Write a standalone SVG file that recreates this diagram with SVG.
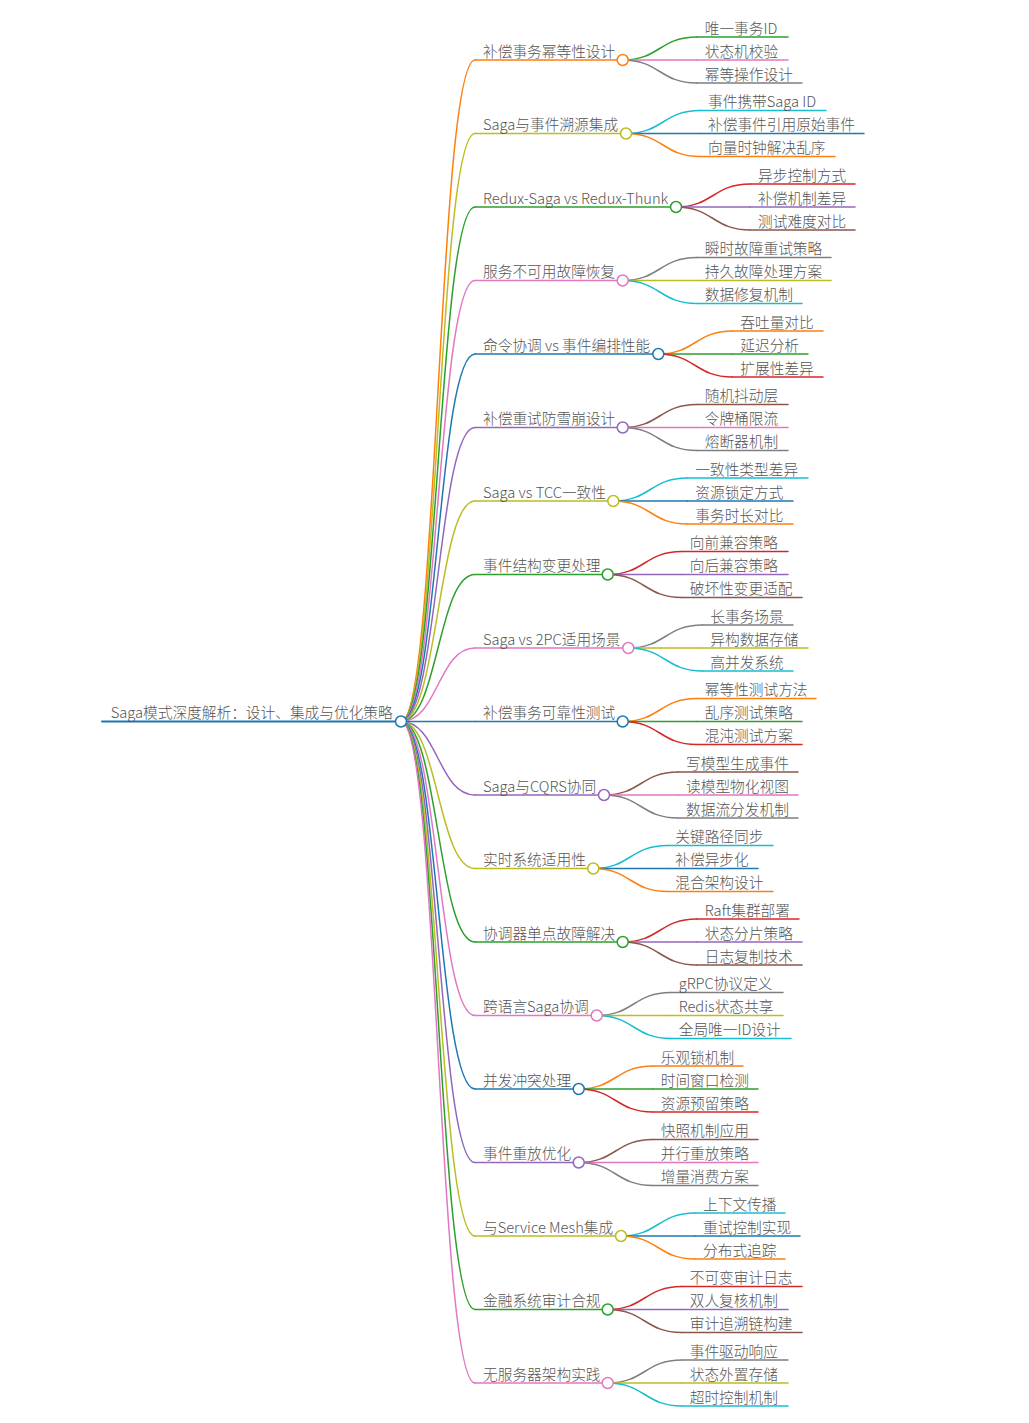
<svg xmlns="http://www.w3.org/2000/svg" width="1029" height="1423" viewBox="0 0 1029 1423">
<style>
text{font-family:"Noto Sans CJK SC","Noto Sans",sans-serif;font-size:14.7px;font-weight:300;fill:#555}
path,line{fill:none;stroke-width:1.5;stroke-linecap:round}
circle{fill:#fff;stroke-width:1.5}
.or{stroke:#ff7f0e}.ol{stroke:#bcbd22}.gr{stroke:#2ca02c}.pk{stroke:#e377c2}.bl{stroke:#1f77b4}.pu{stroke:#9467bd}.rd{stroke:#d62728}.br{stroke:#8c564b}.gy{stroke:#7f7f7f}.cy{stroke:#17becf}
</style>
<rect width="1029" height="1423" fill="#fff"/>
<g id="connectors">
<path class="or" d="M401,721.5 C438,721.5 438,60 475,60"/>
<path class="ol" d="M401,721.5 C438,721.5 438,133.5 475,133.5"/>
<path class="gr" d="M401,721.5 C438,721.5 438,207 475,207"/>
<path class="pk" d="M401,721.5 C438,721.5 438,280.5 475,280.5"/>
<path class="bl" d="M401,721.5 C438,721.5 438,354 475,354"/>
<path class="pu" d="M401,721.5 C438,721.5 438,427.5 475,427.5"/>
<path class="ol" d="M401,721.5 C438,721.5 438,501 475,501"/>
<path class="gr" d="M401,721.5 C438,721.5 438,574.5 475,574.5"/>
<path class="pk" d="M401,721.5 C438,721.5 438,648 475,648"/>
<path class="bl" d="M401,721.5 L475,721.5"/>
<path class="pu" d="M401,721.5 C438,721.5 438,795 475,795"/>
<path class="ol" d="M401,721.5 C438,721.5 438,868.5 475,868.5"/>
<path class="gr" d="M401,721.5 C438,721.5 438,942 475,942"/>
<path class="pk" d="M401,721.5 C438,721.5 438,1015.5 475,1015.5"/>
<path class="bl" d="M401,721.5 C438,721.5 438,1089 475,1089"/>
<path class="pu" d="M401,721.5 C438,721.5 438,1162.5 475,1162.5"/>
<path class="ol" d="M401,721.5 C438,721.5 438,1236 475,1236"/>
<path class="gr" d="M401,721.5 C438,721.5 438,1309.5 475,1309.5"/>
<path class="pk" d="M401,721.5 C438,721.5 438,1383 475,1383"/>

<path class="gr" d="M622.7,60 C659.7,60 659.7,37 696.7,37"/>
<path class="pk" d="M622.7,60 L696.7,60"/>
<path class="gy" d="M622.7,60 C659.7,60 659.7,83 696.7,83"/>

<path class="cy" d="M626,133.5 C663,133.5 663,110.5 700,110.5"/>
<path class="bl" d="M626,133.5 L700,133.5"/>
<path class="or" d="M626,133.5 C663,133.5 663,156.5 700,156.5"/>

<path class="rd" d="M676,207 C713,207 713,184 750,184"/>
<path class="pu" d="M676,207 L750,207"/>
<path class="br" d="M676,207 C713,207 713,230 750,230"/>

<path class="gy" d="M622.7,280.5 C659.7,280.5 659.7,257.5 696.7,257.5"/>
<path class="ol" d="M622.7,280.5 L696.7,280.5"/>
<path class="cy" d="M622.7,280.5 C659.7,280.5 659.7,303.5 696.7,303.5"/>

<path class="or" d="M658.3,354 C695.3,354 695.3,331 732.3,331"/>
<path class="gr" d="M658.3,354 L732.3,354"/>
<path class="rd" d="M658.3,354 C695.3,354 695.3,377 732.3,377"/>

<path class="br" d="M622.7,427.5 C659.7,427.5 659.7,404.5 696.7,404.5"/>
<path class="pk" d="M622.7,427.5 L696.7,427.5"/>
<path class="gy" d="M622.7,427.5 C659.7,427.5 659.7,450.5 696.7,450.5"/>

<path class="cy" d="M613.3,501 C650.3,501 650.3,478 687.3,478"/>
<path class="bl" d="M613.3,501 L687.3,501"/>
<path class="or" d="M613.3,501 C650.3,501 650.3,524 687.3,524"/>

<path class="rd" d="M607.7,574.5 C644.7,574.5 644.7,551.5 681.7,551.5"/>
<path class="pu" d="M607.7,574.5 L681.7,574.5"/>
<path class="br" d="M607.7,574.5 C644.7,574.5 644.7,597.5 681.7,597.5"/>

<path class="gy" d="M628.3,648 C665.3,648 665.3,625 702.3,625"/>
<path class="ol" d="M628.3,648 L702.3,648"/>
<path class="cy" d="M628.3,648 C665.3,648 665.3,671 702.3,671"/>

<path class="or" d="M622.7,721.5 C659.7,721.5 659.7,698.5 696.7,698.5"/>
<path class="gr" d="M622.7,721.5 L696.7,721.5"/>
<path class="rd" d="M622.7,721.5 C659.7,721.5 659.7,744.5 696.7,744.5"/>

<path class="br" d="M604,795 C641,795 641,772 678,772"/>
<path class="pk" d="M604,795 L678,795"/>
<path class="gy" d="M604,795 C641,795 641,818 678,818"/>

<path class="cy" d="M593.3,868.5 C630.3,868.5 630.3,845.5 667.3,845.5"/>
<path class="bl" d="M593.3,868.5 L667.3,868.5"/>
<path class="or" d="M593.3,868.5 C630.3,868.5 630.3,891.5 667.3,891.5"/>

<path class="rd" d="M622.7,942 C659.7,942 659.7,919 696.7,919"/>
<path class="pu" d="M622.7,942 L696.7,942"/>
<path class="br" d="M622.7,942 C659.7,942 659.7,965 696.7,965"/>

<path class="gy" d="M596.7,1015.5 C633.7,1015.5 633.7,992.5 670.7,992.5"/>
<path class="ol" d="M596.7,1015.5 L670.7,1015.5"/>
<path class="cy" d="M596.7,1015.5 C633.7,1015.5 633.7,1038.5 670.7,1038.5"/>

<path class="or" d="M578.7,1089 C615.7,1089 615.7,1066 652.7,1066"/>
<path class="gr" d="M578.7,1089 L652.7,1089"/>
<path class="rd" d="M578.7,1089 C615.7,1089 615.7,1112 652.7,1112"/>

<path class="br" d="M578.7,1162.5 C615.7,1162.5 615.7,1139.5 652.7,1139.5"/>
<path class="pk" d="M578.7,1162.5 L652.7,1162.5"/>
<path class="gy" d="M578.7,1162.5 C615.7,1162.5 615.7,1185.5 652.7,1185.5"/>

<path class="cy" d="M621,1236 C658,1236 658,1213 695,1213"/>
<path class="bl" d="M621,1236 L695,1236"/>
<path class="or" d="M621,1236 C658,1236 658,1259 695,1259"/>

<path class="rd" d="M607.7,1309.5 C644.7,1309.5 644.7,1286.5 681.7,1286.5"/>
<path class="pu" d="M607.7,1309.5 L681.7,1309.5"/>
<path class="br" d="M607.7,1309.5 C644.7,1309.5 644.7,1332.5 681.7,1332.5"/>

<path class="gy" d="M607.7,1383 C644.7,1383 644.7,1360 681.7,1360"/>
<path class="ol" d="M607.7,1383 L681.7,1383"/>
<path class="cy" d="M607.7,1383 C644.7,1383 644.7,1406 681.7,1406"/>
</g>

<g id="root"><line class="bl" x1="102" y1="721.5" x2="401" y2="721.5" style="stroke-width:2"/><text x="110.7" y="718">Saga模式深度解析：设计、集成与优化策略</text><circle class="bl" cx="401" cy="721.5" r="5.5"/></g>

<g id="n1"><line class="or" x1="475" y1="60" x2="622.7" y2="60"/><text x="483" y="56.5">补偿事务幂等性设计</text><circle class="or" cx="622.7" cy="60" r="5.5"/></g>
<g id="n1-1"><line class="gr" x1="696.7" y1="37" x2="788" y2="37"/><text x="704.7" y="33.5">唯一事务ID</text></g>
<g id="n1-2"><line class="pk" x1="696.7" y1="60" x2="788" y2="60"/><text x="704.7" y="56.5">状态机校验</text></g>
<g id="n1-3"><line class="gy" x1="696.7" y1="83" x2="802" y2="83"/><text x="704.7" y="79.5">幂等操作设计</text></g>

<g id="n2"><line class="ol" x1="475" y1="133.5" x2="626" y2="133.5"/><text x="483" y="130">Saga与事件溯源集成</text><circle class="ol" cx="626" cy="133.5" r="5.5"/></g>
<g id="n2-1"><line class="cy" x1="700" y1="110.5" x2="826" y2="110.5"/><text x="708" y="107">事件携带Saga ID</text></g>
<g id="n2-2"><line class="bl" x1="700" y1="133.5" x2="864" y2="133.5"/><text x="708" y="130">补偿事件引用原始事件</text></g>
<g id="n2-3"><line class="or" x1="700" y1="156.5" x2="835" y2="156.5"/><text x="708" y="153">向量时钟解决乱序</text></g>

<g id="n3"><line class="gr" x1="475" y1="207" x2="676" y2="207"/><text x="483" y="203.5">Redux-Saga vs Redux-Thunk</text><circle class="gr" cx="676" cy="207" r="5.5"/></g>
<g id="n3-1"><line class="rd" x1="750" y1="184" x2="855" y2="184"/><text x="758" y="180.5">异步控制方式</text></g>
<g id="n3-2"><line class="pu" x1="750" y1="207" x2="855" y2="207"/><text x="758" y="203.5">补偿机制差异</text></g>
<g id="n3-3"><line class="br" x1="750" y1="230" x2="855" y2="230"/><text x="758" y="226.5">测试难度对比</text></g>

<g id="n4"><line class="pk" x1="475" y1="280.5" x2="622.7" y2="280.5"/><text x="483" y="277">服务不可用故障恢复</text><circle class="pk" cx="622.7" cy="280.5" r="5.5"/></g>
<g id="n4-1"><line class="gy" x1="696.7" y1="257.5" x2="831" y2="257.5"/><text x="704.7" y="254">瞬时故障重试策略</text></g>
<g id="n4-2"><line class="ol" x1="696.7" y1="280.5" x2="831" y2="280.5"/><text x="704.7" y="277">持久故障处理方案</text></g>
<g id="n4-3"><line class="cy" x1="696.7" y1="303.5" x2="802" y2="303.5"/><text x="704.7" y="300">数据修复机制</text></g>

<g id="n5"><line class="bl" x1="475" y1="354" x2="658.3" y2="354"/><text x="483" y="350.5">命令协调 vs 事件编排性能</text><circle class="bl" cx="658.3" cy="354" r="5.5"/></g>
<g id="n5-1"><line class="or" x1="732.3" y1="331" x2="823" y2="331"/><text x="740.3" y="327.5">吞吐量对比</text></g>
<g id="n5-2"><line class="gr" x1="732.3" y1="354" x2="808" y2="354"/><text x="740.3" y="350.5">延迟分析</text></g>
<g id="n5-3"><line class="rd" x1="732.3" y1="377" x2="823" y2="377"/><text x="740.3" y="373.5">扩展性差异</text></g>

<g id="n6"><line class="pu" x1="475" y1="427.5" x2="622.7" y2="427.5"/><text x="483" y="424">补偿重试防雪崩设计</text><circle class="pu" cx="622.7" cy="427.5" r="5.5"/></g>
<g id="n6-1"><line class="br" x1="696.7" y1="404.5" x2="788" y2="404.5"/><text x="704.7" y="401">随机抖动层</text></g>
<g id="n6-2"><line class="pk" x1="696.7" y1="427.5" x2="788" y2="427.5"/><text x="704.7" y="424">令牌桶限流</text></g>
<g id="n6-3"><line class="gy" x1="696.7" y1="450.5" x2="788" y2="450.5"/><text x="704.7" y="447">熔断器机制</text></g>

<g id="n7"><line class="ol" x1="475" y1="501" x2="613.3" y2="501"/><text x="483" y="497.5">Saga vs TCC一致性</text><circle class="ol" cx="613.3" cy="501" r="5.5"/></g>
<g id="n7-1"><line class="cy" x1="687.3" y1="478" x2="808" y2="478"/><text x="695.3" y="474.5">一致性类型差异</text></g>
<g id="n7-2"><line class="bl" x1="687.3" y1="501" x2="793" y2="501"/><text x="695.3" y="497.5">资源锁定方式</text></g>
<g id="n7-3"><line class="or" x1="687.3" y1="524" x2="793" y2="524"/><text x="695.3" y="520.5">事务时长对比</text></g>

<g id="n8"><line class="gr" x1="475" y1="574.5" x2="607.7" y2="574.5"/><text x="483" y="571">事件结构变更处理</text><circle class="gr" cx="607.7" cy="574.5" r="5.5"/></g>
<g id="n8-1"><line class="rd" x1="681.7" y1="551.5" x2="788" y2="551.5"/><text x="689.7" y="548">向前兼容策略</text></g>
<g id="n8-2"><line class="pu" x1="681.7" y1="574.5" x2="788" y2="574.5"/><text x="689.7" y="571">向后兼容策略</text></g>
<g id="n8-3"><line class="br" x1="681.7" y1="597.5" x2="802" y2="597.5"/><text x="689.7" y="594">破坏性变更适配</text></g>

<g id="n9"><line class="pk" x1="475" y1="648" x2="628.3" y2="648"/><text x="483" y="644.5">Saga vs 2PC适用场景</text><circle class="pk" cx="628.3" cy="648" r="5.5"/></g>
<g id="n9-1"><line class="gy" x1="702.3" y1="625" x2="793" y2="625"/><text x="710.3" y="621.5">长事务场景</text></g>
<g id="n9-2"><line class="ol" x1="702.3" y1="648" x2="808" y2="648"/><text x="710.3" y="644.5">异构数据存储</text></g>
<g id="n9-3"><line class="cy" x1="702.3" y1="671" x2="793" y2="671"/><text x="710.3" y="667.5">高并发系统</text></g>

<g id="n10"><line class="bl" x1="475" y1="721.5" x2="622.7" y2="721.5"/><text x="483" y="718">补偿事务可靠性测试</text><circle class="bl" cx="622.7" cy="721.5" r="5.5"/></g>
<g id="n10-1"><line class="or" x1="696.7" y1="698.5" x2="816" y2="698.5"/><text x="704.7" y="695">幂等性测试方法</text></g>
<g id="n10-2"><line class="gr" x1="696.7" y1="721.5" x2="802" y2="721.5"/><text x="704.7" y="718">乱序测试策略</text></g>
<g id="n10-3"><line class="rd" x1="696.7" y1="744.5" x2="802" y2="744.5"/><text x="704.7" y="741">混沌测试方案</text></g>

<g id="n11"><line class="pu" x1="475" y1="795" x2="604" y2="795"/><text x="483" y="791.5">Saga与CQRS协同</text><circle class="pu" cx="604" cy="795" r="5.5"/></g>
<g id="n11-1"><line class="br" x1="678" y1="772" x2="798" y2="772"/><text x="686" y="768.5">写模型生成事件</text></g>
<g id="n11-2"><line class="pk" x1="678" y1="795" x2="798" y2="795"/><text x="686" y="791.5">读模型物化视图</text></g>
<g id="n11-3"><line class="gy" x1="678" y1="818" x2="798" y2="818"/><text x="686" y="814.5">数据流分发机制</text></g>

<g id="n12"><line class="ol" x1="475" y1="868.5" x2="593.3" y2="868.5"/><text x="483" y="865">实时系统适用性</text><circle class="ol" cx="593.3" cy="868.5" r="5.5"/></g>
<g id="n12-1"><line class="cy" x1="667.3" y1="845.5" x2="773" y2="845.5"/><text x="675.3" y="842">关键路径同步</text></g>
<g id="n12-2"><line class="bl" x1="667.3" y1="868.5" x2="758" y2="868.5"/><text x="675.3" y="865">补偿异步化</text></g>
<g id="n12-3"><line class="or" x1="667.3" y1="891.5" x2="773" y2="891.5"/><text x="675.3" y="888">混合架构设计</text></g>

<g id="n13"><line class="gr" x1="475" y1="942" x2="622.7" y2="942"/><text x="483" y="938.5">协调器单点故障解决</text><circle class="gr" cx="622.7" cy="942" r="5.5"/></g>
<g id="n13-1"><line class="rd" x1="696.7" y1="919" x2="799" y2="919"/><text x="704.7" y="915.5">Raft集群部署</text></g>
<g id="n13-2"><line class="pu" x1="696.7" y1="942" x2="802" y2="942"/><text x="704.7" y="938.5">状态分片策略</text></g>
<g id="n13-3"><line class="br" x1="696.7" y1="965" x2="802" y2="965"/><text x="704.7" y="961.5">日志复制技术</text></g>

<g id="n14"><line class="pk" x1="475" y1="1015.5" x2="596.7" y2="1015.5"/><text x="483" y="1012">跨语言Saga协调</text><circle class="pk" cx="596.7" cy="1015.5" r="5.5"/></g>
<g id="n14-1"><line class="gy" x1="670.7" y1="992.5" x2="783" y2="992.5"/><text x="678.7" y="989">gRPC协议定义</text></g>
<g id="n14-2"><line class="ol" x1="670.7" y1="1015.5" x2="783" y2="1015.5"/><text x="678.7" y="1012">Redis状态共享</text></g>
<g id="n14-3"><line class="cy" x1="670.7" y1="1038.5" x2="791" y2="1038.5"/><text x="678.7" y="1035">全局唯一ID设计</text></g>

<g id="n15"><line class="bl" x1="475" y1="1089" x2="578.7" y2="1089"/><text x="483" y="1085.5">并发冲突处理</text><circle class="bl" cx="578.7" cy="1089" r="5.5"/></g>
<g id="n15-1"><line class="or" x1="652.7" y1="1066" x2="743" y2="1066"/><text x="660.7" y="1062.5">乐观锁机制</text></g>
<g id="n15-2"><line class="gr" x1="652.7" y1="1089" x2="758" y2="1089"/><text x="660.7" y="1085.5">时间窗口检测</text></g>
<g id="n15-3"><line class="rd" x1="652.7" y1="1112" x2="758" y2="1112"/><text x="660.7" y="1108.5">资源预留策略</text></g>

<g id="n16"><line class="pu" x1="475" y1="1162.5" x2="578.7" y2="1162.5"/><text x="483" y="1159">事件重放优化</text><circle class="pu" cx="578.7" cy="1162.5" r="5.5"/></g>
<g id="n16-1"><line class="br" x1="652.7" y1="1139.5" x2="758" y2="1139.5"/><text x="660.7" y="1136">快照机制应用</text></g>
<g id="n16-2"><line class="pk" x1="652.7" y1="1162.5" x2="758" y2="1162.5"/><text x="660.7" y="1159">并行重放策略</text></g>
<g id="n16-3"><line class="gy" x1="652.7" y1="1185.5" x2="758" y2="1185.5"/><text x="660.7" y="1182">增量消费方案</text></g>

<g id="n17"><line class="ol" x1="475" y1="1236" x2="621" y2="1236"/><text x="483" y="1232.5">与Service Mesh集成</text><circle class="ol" cx="621" cy="1236" r="5.5"/></g>
<g id="n17-1"><line class="cy" x1="695" y1="1213" x2="785" y2="1213"/><text x="703" y="1209.5">上下文传播</text></g>
<g id="n17-2"><line class="bl" x1="695" y1="1236" x2="800" y2="1236"/><text x="703" y="1232.5">重试控制实现</text></g>
<g id="n17-3"><line class="or" x1="695" y1="1259" x2="785" y2="1259"/><text x="703" y="1255.5">分布式追踪</text></g>

<g id="n18"><line class="gr" x1="475" y1="1309.5" x2="607.7" y2="1309.5"/><text x="483" y="1306">金融系统审计合规</text><circle class="gr" cx="607.7" cy="1309.5" r="5.5"/></g>
<g id="n18-1"><line class="rd" x1="681.7" y1="1286.5" x2="802" y2="1286.5"/><text x="689.7" y="1283">不可变审计日志</text></g>
<g id="n18-2"><line class="pu" x1="681.7" y1="1309.5" x2="788" y2="1309.5"/><text x="689.7" y="1306">双人复核机制</text></g>
<g id="n18-3"><line class="br" x1="681.7" y1="1332.5" x2="802" y2="1332.5"/><text x="689.7" y="1329">审计追溯链构建</text></g>

<g id="n19"><line class="pk" x1="475" y1="1383" x2="607.7" y2="1383"/><text x="483" y="1379.5">无服务器架构实践</text><circle class="pk" cx="607.7" cy="1383" r="5.5"/></g>
<g id="n19-1"><line class="gy" x1="681.7" y1="1360" x2="788" y2="1360"/><text x="689.7" y="1356.5">事件驱动响应</text></g>
<g id="n19-2"><line class="ol" x1="681.7" y1="1383" x2="788" y2="1383"/><text x="689.7" y="1379.5">状态外置存储</text></g>
<g id="n19-3"><line class="cy" x1="681.7" y1="1406" x2="788" y2="1406"/><text x="689.7" y="1402.5">超时控制机制</text></g>
</svg>
